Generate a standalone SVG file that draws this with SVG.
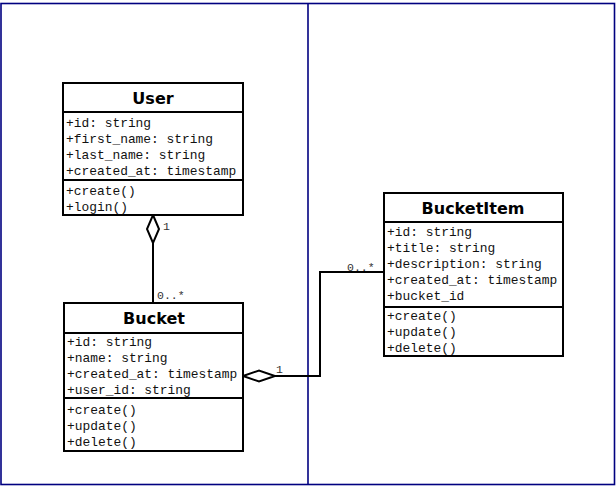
<svg xmlns="http://www.w3.org/2000/svg" width="616" height="486" viewBox="0 0 616 486">
  <style>
    .page { stroke: #000080; stroke-width: 1.6; fill: none; }
    .box { fill: #ffffff; stroke: #000000; stroke-width: 2; }
    .sep { stroke: #000000; stroke-width: 2; }
    .title { font-family: "DejaVu Sans", "Liberation Sans", sans-serif; font-weight: bold; font-size: 16px; fill: #000000; text-anchor: middle; }
    .member { font-family: "Liberation Mono", "DejaVu Sans Mono", monospace; font-size: 12.9px; fill: #111111; }
    .mult { font-family: "Liberation Mono", "DejaVu Sans Mono", monospace; font-size: 11.5px; fill: #333333; }
    .edge { stroke: #000000; stroke-width: 2; fill: none; }
    .agg { stroke: #000000; stroke-width: 2; fill: #ffffff; }
  </style>

  <!-- page frame -->
  <g id="page">
    <rect class="page" x="1" y="3.5" width="613.5" height="481"/>
    <line class="page" x1="308" y1="3.5" x2="308" y2="484.5"/>
  </g>

  <!-- associations -->
  <g id="connectors">
    <path class="edge" d="M153 243 V303"/>
    <polygon class="agg" points="153,215 159,229 153,243 147,229"/>
    <text class="mult" x="163" y="230">1</text>
    <text class="mult" x="157" y="299">0..*</text>

    <path class="edge" d="M275 376 H320 V272 H384"/>
    <polygon class="agg" points="243,376 259,370.5 275,376 259,381.5"/>
    <text class="mult" x="276" y="373">1</text>
    <text class="mult" x="347" y="271">0..*</text>
  </g>

  <g id="User">
    <rect class="box" x="63" y="83" width="180" height="132"/>
    <line class="sep" x1="63" y1="112" x2="243" y2="112"/>
    <line class="sep" x1="63" y1="180" x2="243" y2="180"/>
    <text class="title" x="153" y="104">User</text>
    <text class="member" x="66" y="127">+id: string</text>
    <text class="member" x="66" y="143">+first_name: string</text>
    <text class="member" x="66" y="159">+last_name: string</text>
    <text class="member" x="66" y="175">+created_at: timestamp</text>
    <text class="member" x="66" y="195">+create()</text>
    <text class="member" x="66" y="211">+login()</text>
  </g>

  <g id="Bucket">
    <rect class="box" x="64" y="303" width="179" height="148"/>
    <line class="sep" x1="64" y1="333" x2="243" y2="333"/>
    <line class="sep" x1="64" y1="398" x2="243" y2="398"/>
    <text class="title" x="154" y="324">Bucket</text>
    <text class="member" x="67" y="346">+id: string</text>
    <text class="member" x="67" y="362">+name: string</text>
    <text class="member" x="67" y="378">+created_at: timestamp</text>
    <text class="member" x="67" y="394">+user_id: string</text>
    <text class="member" x="67" y="414">+create()</text>
    <text class="member" x="67" y="430">+update()</text>
    <text class="member" x="67" y="446">+delete()</text>
  </g>

  <g id="BucketItem">
    <rect class="box" x="384" y="193" width="179" height="163"/>
    <line class="sep" x1="384" y1="222" x2="563" y2="222"/>
    <line class="sep" x1="384" y1="307" x2="563" y2="307"/>
    <text class="title" x="473" y="214">BucketItem</text>
    <text class="member" x="387" y="236">+id: string</text>
    <text class="member" x="387" y="252">+title: string</text>
    <text class="member" x="387" y="268">+description: string</text>
    <text class="member" x="387" y="284">+created_at: timestamp</text>
    <text class="member" x="387" y="300">+bucket_id</text>
    <text class="member" x="387" y="320">+create()</text>
    <text class="member" x="387" y="336">+update()</text>
    <text class="member" x="387" y="352">+delete()</text>
  </g>
</svg>
